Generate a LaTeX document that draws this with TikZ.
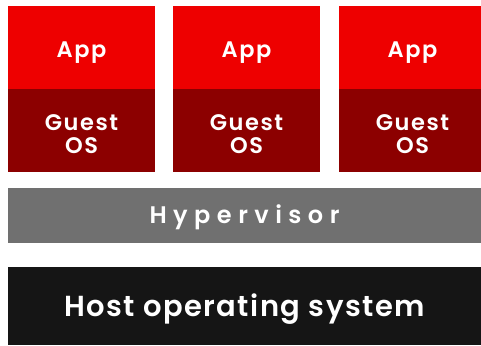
\documentclass[tikz,border=0pt]{standalone}
\usepackage{fontspec}
\setmainfont{Poppins}[BoldFont={* SemiBold}]
\definecolor{appred}{HTML}{EE0000}
\definecolor{guestred}{HTML}{8C0000}
\definecolor{hypgray}{HTML}{707070}
\definecolor{hostblack}{HTML}{151515}
\newcommand{\twolines}[2]{\begin{tabular}[t]{@{}c@{}}#1\\#2\end{tabular}}
\tikzset{
  layer/.style={rectangle, inner sep=0pt, outer sep=0pt, anchor=north west, text=white, align=center, font=\bfseries},
  appbox/.style={layer, fill=appred, minimum width=147pt, minimum height=83pt, text height=19pt, text depth=0pt, font=\bfseries\fontsize{22.5}{23}\selectfont\addfontfeatures{LetterSpace=7}},
  guestbox/.style={layer, fill=guestred, minimum width=147pt, minimum height=83pt, text height=10pt, text depth=10pt, font=\bfseries\fontsize{22.5}{23}\selectfont\addfontfeatures{LetterSpace=7}},
}
\begin{document}
\begin{tikzpicture}[x=1pt,y=1pt]
\useasboundingbox (0,0) rectangle (481,-345);
\node[appbox] (app1) at (8,-6) {App};
\node[guestbox] (guest1) at (8,-89) {\twolines{Guest}{OS}};
\node[appbox] (app2) at (173,-6) {App};
\node[guestbox] (guest2) at (173,-89) {\twolines{Guest}{OS}};
\node[appbox, minimum width=142pt] (app3) at (339,-6) {\hspace*{5pt}App};
\node[guestbox, minimum width=142pt] (guest3) at (339,-89) {\hspace*{5pt}\twolines{Guest}{OS}};
\node[layer, fill=hypgray, minimum width=473pt, minimum height=55pt, text height=15pt, text depth=0pt, font=\bfseries\fontsize{24}{25}\selectfont\addfontfeatures{LetterSpace=27}] (hyp) at (8,-188) {Hypervisor};
\node[layer, fill=hostblack, minimum width=473pt, minimum height=78pt, text height=21.4pt, text depth=0pt, font=\bfseries\fontsize{29}{30}\selectfont\addfontfeatures{LetterSpace=5}] (host) at (8,-267) {Host operating system};
\end{tikzpicture}
\end{document}
